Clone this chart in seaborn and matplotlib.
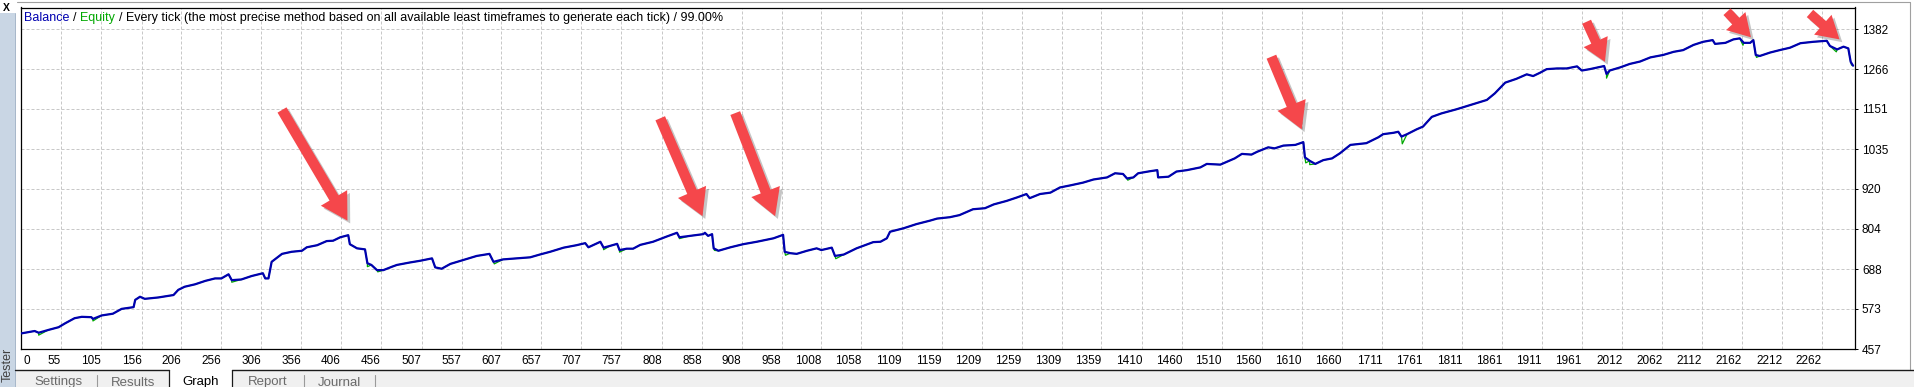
import matplotlib
matplotlib.use("Agg")
import matplotlib.pyplot as plt
import seaborn as sns
import pandas as pd
from matplotlib.patches import FancyArrowPatch, Rectangle, ArrowStyle
from matplotlib.lines import Line2D
import matplotlib.patheffects as pe
import matplotlib.transforms as mtrans

# ---------------- data ----------------
balance_x = [5, 22, 27, 39, 52, 60, 72, 81, 93, 95, 106, 120, 131, 146, 148, 154, 160, 177, 196, 202,
             210, 223, 236, 248, 256, 265, 269, 281, 294, 308, 311, 315, 319, 332, 344, 357, 363, 376, 388, 396,
             405, 415, 417, 426, 436, 439, 444, 451, 459, 470, 476, 492, 505, 520, 524, 532, 543, 559, 576, 592,
             597, 609, 626, 643, 655, 668, 685, 701, 712, 716, 731, 735, 743, 752, 755, 764, 772, 781, 792,
             797, 814, 827, 830, 843, 860, 862, 866, 871, 873, 879, 894, 910, 927, 948, 960, 962, 969, 977,
             990, 1002, 1008, 1021, 1025, 1036, 1052, 1073, 1082, 1090, 1094, 1111, 1127, 1144, 1153, 1169, 1181,
             1198, 1213, 1224, 1240, 1253, 1265, 1269, 1282, 1295, 1307, 1320, 1336, 1349, 1366, 1376, 1386,
             1391, 1399, 1405, 1420, 1429, 1430, 1443, 1453, 1466, 1483, 1491, 1508, 1516, 1526, 1535, 1547,
             1554, 1568, 1576, 1587, 1602, 1612, 1614, 1620, 1627, 1637, 1648, 1658, 1671, 1691, 1706, 1712,
             1725, 1731, 1735, 1742, 1754, 1762, 1773, 1785, 1804, 1825, 1842, 1852, 1865, 1879, 1892, 1900,
             1909, 1917, 1930, 1942, 1955, 1961, 1971, 1989, 1992, 1996, 2009, 2021, 2034, 2047, 2063, 2076,
             2088, 2101, 2113, 2125, 2128, 2141, 2151, 2159, 2164, 2172, 2176, 2179, 2184, 2197, 2209, 2222,
             2235, 2251, 2268, 2272, 2281, 2289, 2295, 2298, 2301]
balance_y = [502, 509, 504, 512, 520, 531, 546, 550, 549, 544, 554, 559, 573, 578, 599, 608, 602, 606, 613, 628,
             637, 644, 654, 661, 661, 673, 656, 658, 668, 676, 661, 661, 709, 732, 738, 741, 751, 757, 769, 770,
             780, 786, 760, 748, 745, 705, 700, 685, 685, 695, 700, 707, 712, 719, 693, 689, 703, 714, 726, 732,
             709, 716, 719, 722, 730, 738, 750, 757, 763, 751, 767, 750, 755, 761, 743, 747, 747, 758, 764,
             767, 782, 793, 780, 784, 789, 793, 784, 789, 748, 741, 751, 760, 767, 777, 787, 738, 734, 732,
             741, 748, 743, 750, 726, 730, 748, 766, 767, 777, 796, 806, 818, 828, 834, 838, 844,
             861, 864, 875, 885, 895, 905, 893, 905, 909, 924, 930, 938, 947, 953, 965, 963,
             950, 953, 965, 971, 974, 953, 955, 970, 974, 982, 992, 990, 998, 1008, 1021, 1019,
             1027, 1040, 1037, 1045, 1047, 1055, 1011, 1001, 992, 1003, 1008, 1023, 1047, 1052, 1069, 1078,
             1082, 1085, 1071, 1078, 1092, 1100, 1128, 1138, 1150, 1165, 1177, 1196, 1227, 1238, 1251, 1246,
             1256, 1266, 1268, 1268, 1274, 1262, 1266, 1275, 1252, 1262, 1271, 1281, 1288, 1300, 1307, 1316,
             1321, 1336, 1345, 1350, 1339, 1342, 1352, 1355, 1342, 1342, 1350, 1307, 1304, 1314, 1321, 1328,
             1341, 1345, 1348, 1333, 1323, 1331, 1326, 1287, 1276]

# equity dips (floating drawdowns visible as green ticks)
equity_dip_x = [27, 95, 269, 439, 452, 598, 735, 755, 830, 874, 963, 1026, 1392, 1615, 1620, 1736, 1992, 2163, 2180, 2280, 2299]
equity_dip_y = [497, 538, 650, 695, 680, 703, 744, 737, 776, 742, 728, 718, 945, 995, 990, 1050, 1240, 1335, 1300, 1316, 1278]

xtick_labels = ["0", "55", "105", "156", "206", "256", "306", "356", "406", "456", "507", "557", "607", "657",
                "707", "757", "808", "858", "908", "958", "1008", "1058", "1109", "1159", "1209", "1259", "1309",
                "1359", "1410", "1460", "1510", "1560", "1610", "1660", "1711", "1761", "1811", "1861", "1911",
                "1961", "2012", "2062", "2112", "2162", "2212", "2262"]
ytick_labels = ["457", "573", "688", "804", "920", "1035", "1151", "1266", "1382"]

# red annotation arrows (tail -> tip, in data units)
arrow_tail_x = [332, 806, 900, 1572, 1967, 2143, 2247]
arrow_tail_y = [1148, 1124, 1139, 1302, 1403, 1432, 1427]
arrow_tip_x = [414, 859, 950, 1610, 1990, 2173, 2284]
arrow_tip_y = [828, 841, 841, 1092, 1287, 1358, 1352]

tab_names = ["Settings", "Results", "Graph", "Report", "Journal"]
title_parts = ["Balance", "/", "Equity",
               "/ Every tick (the most precise method based on all available least timeframes to generate each tick) / 99.00%"]

# ---------------- style ----------------
sns.set_style("white")
plt.rcParams['font.family'] = ['Liberation Sans', 'DejaVu Sans']

W, H = 1914, 387
fig = plt.figure(figsize=(W / 100, H / 100), dpi=100)
fig.patch.set_facecolor("white")

def fx(px):
    return px / W

def fy(py):
    return 1 - py / H

BLUE = "#0000b0"
GREEN = "#00a800"
FS = 8.5
TFS = 9.0

X_MIN, X_MAX = 4.87, 2303.4
Y_MIN, Y_MAX = 457, 1444.2

ax = fig.add_axes([fx(21), fy(349), fx(1855) - fx(21), fy(7.5) - fy(349)])
ax.set_facecolor("white")

# equity series = balance plus dips
eq = pd.DataFrame({"x": balance_x + equity_dip_x, "y": balance_y + equity_dip_y}).sort_values("x", kind="stable")
sns.lineplot(x=eq["x"].to_numpy(), y=eq["y"].to_numpy(), ax=ax, color=GREEN, linewidth=0.9,
             estimator=None, sort=False, zorder=3)
sns.lineplot(x=balance_x, y=balance_y, ax=ax, color=BLUE, linewidth=1.6,
             estimator=None, sort=False, zorder=4)

ax.set_xlim(X_MIN, X_MAX)
ax.set_ylim(Y_MIN, Y_MAX)

xt = [X_MIN] + [float(v) for v in xtick_labels[1:]]
ax.set_xticks(xt)
ax.set_xticklabels(xtick_labels)
ax.set_yticks([float(v) for v in ytick_labels])
ax.set_yticklabels(ytick_labels)

ax.yaxis.tick_right()
ax.tick_params(axis="y", which="both", right=True, left=False, labelright=True, labelleft=False,
               length=2.5, width=0.72, pad=2.5, labelsize=FS, colors="black", direction="out")
ax.tick_params(axis="x", length=2.5, width=0.72, pad=1.6, labelsize=FS, color="#9a9a9a",
               labelcolor="black", direction="out")
for i, lab in enumerate(ax.get_xticklabels()):
    if i == 0:
        lab.set_ha("left")
        lab.set_transform(lab.get_transform() + mtrans.ScaledTranslation(2 / 100, 0, fig.dpi_scale_trans))
    else:
        lab.set_ha("right")

ax.grid(True, color="#c8c8c8", linestyle=(0, (3, 2)), linewidth=0.72)
ax.set_axisbelow(True)
for s in ax.spines.values():
    s.set_color("black")
    s.set_linewidth(0.9)
ax.set_xlabel("")
ax.set_ylabel("")

# red arrows
for i in range(len(arrow_tail_x)):
    big = i < 4
    style = ArrowStyle.Simple(head_length=1.9 if big else 1.6,
                              head_width=2.2 if big else 1.9,
                              tail_width=0.75 if big else 0.7)
    arr = FancyArrowPatch((arrow_tail_x[i], arrow_tail_y[i]), (arrow_tip_x[i], arrow_tip_y[i]),
                          arrowstyle=style, mutation_scale=10, color="#f5474b", lw=0,
                          shrinkA=0, shrinkB=0, clip_on=False, zorder=6,
                          path_effects=[pe.withSimplePatchShadow(offset=(2, -2), shadow_rgbFace="#404040", alpha=0.3)])
    ax.add_patch(arr)

# title chain
prev = fig.text(fx(24), fy(24), title_parts[0], color=BLUE, fontsize=TFS, va="bottom", ha="left")
colors = ["black", GREEN, "black"]
for part, c in zip(title_parts[1:], colors):
    prev = ax.annotate(part, xy=(1, 0), xycoords=prev, xytext=(3.6, 0), textcoords="offset pixels",
                       va="bottom", ha="left", fontsize=TFS, color=c, annotation_clip=False)

# ---------------- window chrome ----------------
# left "Tester" sidebar
fig.add_artist(Rectangle((0, 0), fx(15), fy(13), transform=fig.transFigure, facecolor="#c9d6e4",
                         edgecolor="none", zorder=0))
fig.add_artist(Line2D([fx(15), fx(15)], [0, fy(13)], transform=fig.transFigure, color="#a8b8ca", lw=0.72))
fig.text(fx(7.5), fy(348), "Tester", rotation=90, ha="center", va="top", fontsize=9.0, color="#404040")
fig.text(fx(6), fy(8), "X", ha="center", va="center", fontsize=7.5, fontweight="bold", color="black")

# panel frame lines
fig.add_artist(Line2D([fx(17), fx(1910)], [fy(2.3), fy(2.3)], transform=fig.transFigure, color="#a0a0a0", lw=0.8))
fig.add_artist(Line2D([fx(1909.5), fx(1909.5)], [fy(2.3), fy(369)], transform=fig.transFigure, color="#a0a0a0", lw=0.8))

# bottom tab bar
fig.add_artist(Rectangle((fx(15), 0), 1 - fx(15), fy(369.5), transform=fig.transFigure,
                         facecolor="#f0f0f0", edgecolor="none", zorder=0))
fig.add_artist(Rectangle((fx(169), 0), fx(232) - fx(169), fy(369.5), transform=fig.transFigure,
                         facecolor="white", edgecolor="none", zorder=1))
fig.add_artist(Line2D([fx(15), fx(169)], [fy(369.5)] * 2, transform=fig.transFigure, color="#1a1a1a", lw=1.0))
fig.add_artist(Line2D([fx(232), 1], [fy(369.5)] * 2, transform=fig.transFigure, color="#1a1a1a", lw=1.0))
for xv in (169, 232):
    fig.add_artist(Line2D([fx(xv), fx(xv)], [0, fy(369.5)], transform=fig.transFigure, color="#1a1a1a", lw=0.9))
for xv in (97, 304, 375):
    fig.add_artist(Line2D([fx(xv), fx(xv)], [0, fy(375)], transform=fig.transFigure, color="#9a9a9a", lw=0.8))

tab_centers = [58, 133, 201, 268, 339]
for name, cx in zip(tab_names, tab_centers):
    fig.text(fx(cx), fy(385.5), name, ha="center", va="baseline", fontsize=9.5,
             color="black" if name == "Graph" else "#6a6a6a")

fig.savefig("out.png", dpi=100, facecolor=fig.get_facecolor())
